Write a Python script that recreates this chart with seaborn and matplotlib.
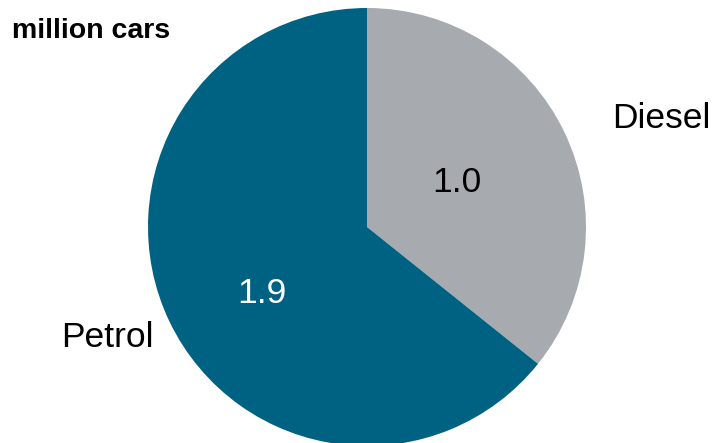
import matplotlib
matplotlib.use("Agg")
import matplotlib.pyplot as plt
import seaborn as sns

categories = ["Diesel", "Petrol"]
values = [1.04, 1.87]
value_labels = ["1.0", "1.9"]
colors = ["#A7AAAF", "#006283"]
unit_label = "million cars"

sns.set_theme(style="white")
plt.rcParams['font.family'] = ['Liberation Sans', 'DejaVu Sans']

fig = plt.figure(figsize=(7.14, 4.43), dpi=100)
W, H = 714, 443
cx, cy, r = 367, 227, 219
ax = fig.add_axes([(cx - r) / W, (H - cy - r) / H, 2 * r / W, 2 * r / H])
wedges, texts = ax.pie(values, colors=colors, startangle=90, counterclock=False,
                       radius=1.0, labels=categories,
                       wedgeprops=dict(linewidth=0))
ax.set_xlim(-1, 1)
ax.set_ylim(-1, 1)
ax.set_aspect('equal')
ax.set_clip_on(False)

label_pos = [(1.342, 0.495), (-1.187, -0.503)]
for t, p in zip(texts, label_pos):
    t.set_position(p)
    t.set_ha('center')
    t.set_va('center')
    t.set_fontsize(25.5)
    t.set_color('black')

val_pos = [(0.411, 0.205), (-0.479, -0.305)]
val_colors = ['black', 'white']
for lab, p, c in zip(value_labels, val_pos, val_colors):
    ax.text(p[0], p[1], lab, ha='center', va='center', fontsize=25.5, color=c)

fig.text(12 / W, 1 - 31 / H, unit_label, ha='left', va='center',
         fontsize=20.5, fontweight='bold', color='black')

fig.savefig("out.png", dpi=100)
